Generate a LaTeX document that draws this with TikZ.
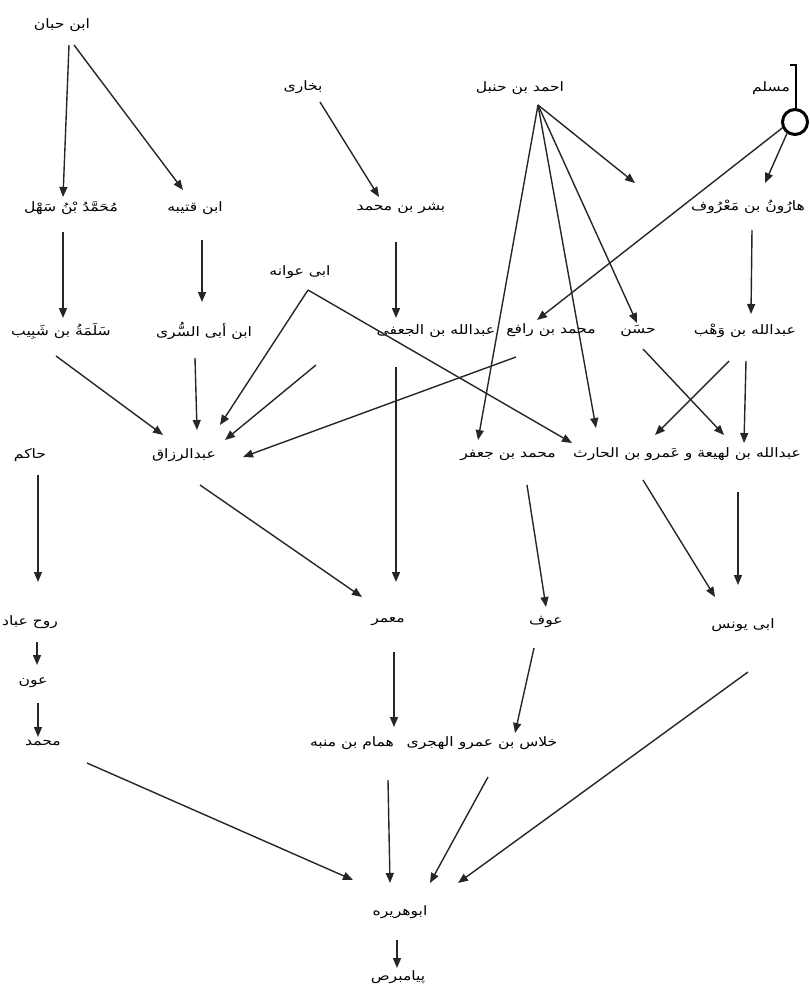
\documentclass[tikz,border=0pt]{standalone}
\usepackage{fontspec}
\newfontfamily\arabicfont[Script=Arabic,FakeStretch=1.2]{DejaVu Sans}
\TeXXeTstate=1
\usetikzlibrary{arrows.meta}

\begin{document}
\begin{tikzpicture}[x=1pt, y=-1pt,
    rawi/.style={font=\arabicfont\fontsize{13}{15}\selectfont, inner sep=1pt},
    isnad/.style={-{Triangle[length=10pt,width=8pt]}, line width=1.4pt, draw=black!85}]
  \useasboundingbox (0,0) rectangle (809,985);

  % top row
  \node[rawi] (ibnhibban) at (62,25) {\beginR ابن حبان\endR};
  \node[rawi] (bukhari) at (303,87) {\beginR بخاری\endR};
  \node[rawi] (ahmad) at (520,88) {\beginR احمد بن حنبل\endR};
  \node[rawi] (muslim) at (771,88) {\beginR مسلم\endR};
  \node[circle, draw, line width=3pt, minimum size=25pt, inner sep=0pt] (muslimring) at (795,122) {};
  \draw[line width=1.3pt] (790,65) -- (796,65) -- (muslimring.north -| 796,0);

  % second row
  \node[rawi] (sahl) at (71,208) {\beginR مُحَمَّدُ بْنُ سَهْل\endR};
  \node[rawi] (qutaiba) at (195,208) {\beginR ابن قتیبه\endR};
  \node[rawi] (bishr) at (401,208) {\beginR بشر بن محمد\endR};
  \node[rawi] (harun) at (748,207) {\beginR هارُونُ بن مَعْرُوف\endR};
  \node[rawi] (awana) at (300,272) {\beginR ابی عوانه\endR};

  % third row
  \node[rawi] (salama) at (61,331) {\beginR سَلَمَةُ بن شَبِيب\endR};
  \node[rawi] (sari) at (204,331) {\beginR ابن أبی السُّری\endR};
  \node[rawi] (jufi) at (436,331) {\beginR عبدالله بن الجعفی\endR};
  \node[rawi] (rafi) at (551,330) {\beginR محمد بن رافع\endR};
  \node[rawi] (hasan) at (638,331) {\beginR حسَن\endR};
  \node[rawi] (wahb) at (745,331) {\beginR عبدالله بن وَهْب\endR};

  % fourth row
  \node[rawi] (hakim) at (30,455) {\beginR حاکم\endR};
  \node[rawi] (razzaq) at (184,455) {\beginR عبدالرزاق\endR};
  \node[rawi] (jaafar) at (508,455) {\beginR محمد بن جعفر\endR};
  \node[rawi] (lahia) at (687,454) {\beginR عبدالله بن لهیعة و عَمرو بن الحارث\endR};

  % lower rows
  \node[rawi] (ruh) at (30,622) {\beginR روح عباد\endR};
  \node[rawi] (aun) at (33,683) {\beginR عون\endR};
  \node[rawi] (muhammad) at (43,743) {\beginR محمد\endR};
  \node[rawi] (mamar) at (388,622) {\beginR معمر\endR};
  \node[rawi] (auf) at (546,622) {\beginR عوف\endR};
  \node[rawi] (yunus) at (743,625) {\beginR ابی یونس\endR};
  \node[rawi] (hammam) at (352,743) {\beginR همام بن منبه\endR};
  \node[rawi] (khallas) at (482,743) {\beginR خلاس بن عمرو الهجری\endR};
  \node[rawi] (abuhuraira) at (400,912) {\beginR ابوهریره\endR};
  \node[rawi] (payambar) at (398,977) {\beginR پیامبرص\endR};

  \coordinate (ahmadfoot) at ([shift={(18,17)}]ahmad.center);
  \coordinate (ahmadfree) at (635,183);
  \coordinate (razzaqfree) at (316,365);

  % ibn hibban, bukhari
  \draw[isnad] ([shift={(7,20)}]ibnhibban.center) -- ([shift={(-8,-11)}]sahl.center);
  \draw[isnad] ([shift={(12,20)}]ibnhibban.center) -- ([shift={(-12,-18)}]qutaiba.center);
  \draw[isnad] ([shift={(17,15)}]bukhari.center) -- ([shift={(-22,-11)}]bishr.center);

  % ahmad ibn hanbal
  \draw[isnad] (ahmadfoot) -- (ahmadfree);
  \draw[isnad] (ahmadfoot) -- ([shift={(-30,-15)}]jaafar.center);
  \draw[isnad] (ahmadfoot) -- ([shift={(-91,-26)}]lahia.center);
  \draw[isnad] (ahmadfoot) -- ([shift={(-1,-8)}]hasan.center);

  % muslim
  \draw[isnad] (muslimring.235) -- ([shift={(17,-24)}]harun.center);
  \draw[isnad] (muslimring.205) -- ([shift={(-14,-10)}]rafi.center);
  \draw[isnad] ([shift={(4,23)}]harun.center) -- ([shift={(6,-17)}]wahb.center);

  % second to third row
  \draw[isnad] ([shift={(-8,24)}]sahl.center) -- ([shift={(2,-13)}]salama.center);
  \draw[isnad] ([shift={(7,32)}]qutaiba.center) -- ([shift={(-2,-29)}]sari.center);
  \draw[isnad] ([shift={(-5,34)}]bishr.center) -- ([shift={(-40,-13)}]jufi.center);

  % into abd al-razzaq
  \draw[isnad] ([shift={(8,18)}]awana.center) -- ([shift={(36,-30)}]razzaq.center);
  \draw[isnad] (razzaqfree) -- ([shift={(41,-15)}]razzaq.center);
  \draw[isnad] ([shift={(-35,27)}]rafi.center) -- ([shift={(59,2)}]razzaq.center);
  \draw[isnad] ([shift={(-5,25)}]salama.center) -- ([shift={(-21,-20)}]razzaq.center);
  \draw[isnad] ([shift={(-9,27)}]sari.center) -- ([shift={(13,-25)}]razzaq.center);

  % into ibn lahia / amr
  \draw[isnad] ([shift={(8,18)}]awana.center) -- ([shift={(-115,-11)}]lahia.center);
  \draw[isnad] ([shift={(-16,30)}]wahb.center) -- ([shift={(-32,-19)}]lahia.center);
  \draw[isnad] ([shift={(5,18)}]hasan.center) -- ([shift={(37,-19)}]lahia.center);
  \draw[isnad] ([shift={(1,30)}]wahb.center) -- ([shift={(57,-11)}]lahia.center);

  % fourth row down
  \draw[isnad] ([shift={(-40,36)}]jufi.center) -- ([shift={(8,-40)}]mamar.center);
  \draw[isnad] ([shift={(8,20)}]hakim.center) -- ([shift={(8,-40)}]ruh.center);
  \draw[isnad] ([shift={(16,30)}]razzaq.center) -- ([shift={(-26,-25)}]mamar.center);
  \draw[isnad] ([shift={(19,30)}]jaafar.center) -- ([shift={(0,-15)}]auf.center);
  \draw[isnad] ([shift={(-44,26)}]lahia.center) -- ([shift={(-28,-28)}]yunus.center);
  \draw[isnad] ([shift={(51,38)}]lahia.center) -- ([shift={(-5,-40)}]yunus.center);

  % lower chain
  \draw[isnad] ([shift={(7,20)}]ruh.center) -- ([shift={(4,-18)}]aun.center);
  \draw[isnad] ([shift={(5,20)}]aun.center) -- ([shift={(-5,-6)}]muhammad.center);
  \draw[isnad] ([shift={(6,30)}]mamar.center) -- ([shift={(42,-16)}]hammam.center);
  \draw[isnad] ([shift={(-12,26)}]auf.center) -- ([shift={(33,-10)}]khallas.center);

  % abu huraira
  \draw[isnad] ([shift={(44,20)}]muhammad.center) -- ([shift={(-47,-32)}]abuhuraira.center);
  \draw[isnad] ([shift={(36,37)}]hammam.center) -- ([shift={(-10,-29)}]abuhuraira.center);
  \draw[isnad] ([shift={(6,34)}]khallas.center) -- ([shift={(30,-29)}]abuhuraira.center);
  \draw[isnad] ([shift={(5,47)}]yunus.center) -- ([shift={(58,-29)}]abuhuraira.center);
  \draw[isnad] ([shift={(-3,28)}]abuhuraira.center) -- ([shift={(-1,-9)}]payambar.center);
\end{tikzpicture}
\end{document}
